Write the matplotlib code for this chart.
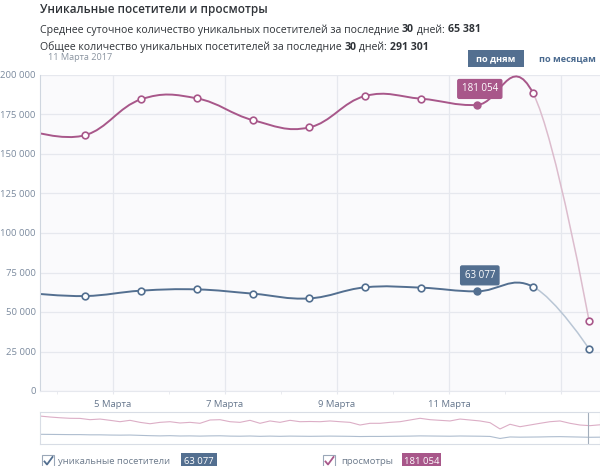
import matplotlib
matplotlib.use('Agg')
import matplotlib.pyplot as plt
from matplotlib.path import Path
from matplotlib.patches import PathPatch, Rectangle
from matplotlib.ticker import FixedLocator, FuncFormatter
from matplotlib.lines import Line2D

plt.rcParams['font.family'] = ['Open Sans', 'DejaVu Sans']

# data points are at midday, first one is just outside the left edge
days = [3.5, 4.5, 5.5, 6.5, 7.5, 8.5, 9.5, 10.5, 11.5, 12.5, 13.5]
views = [165000, 161900, 184600, 185200, 171400, 166800, 186700, 185000, 181054, 188500, 44400]
visitors = [62000, 60100, 63500, 64300, 61600, 58600, 65600, 65400, 63077, 66000, 26700]
hover = 8
tick_days = [5, 7, 9, 11, 13]
tick_labels = ['5 Марта', '7 Марта', '9 Марта', '11 Марта', '']

# navigator (whole period, rough)
nav_views = [262000, 253000, 246000, 241000, 240000, 228000, 234000, 222000, 209000, 222000,
             203000, 190000, 203000, 209000, 197000, 203000, 194000, 225000, 228000, 209000,
             203000, 222000, 194000, 216000, 203000, 222000, 209000, 211000, 209000, 216000,
             209000, 203000, 178000, 194000, 194000, 203000, 209000, 225000, 241000, 228000,
             222000, 216000, 234000, 225000, 216000, 200000, 141000, 185000, 162000, 178000,
             194000, 209000, 216000, 194000, 178000, 172000, 180000]
nav_visitors = [91000, 90000, 89000, 88000, 88000, 86000, 86000, 84000, 83000, 84000,
                81000, 78000, 76000, 78000, 75000, 76000, 74000, 76000, 77000, 74000,
                73000, 75000, 72000, 74000, 72000, 74000, 73000, 72000, 73000, 74000,
                73000, 72000, 70000, 71000, 71000, 72000, 73000, 74000, 76000, 75000,
                74000, 73000, 75000, 74000, 73000, 71000, 52000, 66000, 64000, 65000,
                66000, 68000, 69000, 67000, 65000, 63000, 64000]
nav_sel = 54.8

C_VIEWS = '#a8578a'
C_VIS = '#536f90'
C_VIEWS_PALE = '#dcbccd'
C_VIS_PALE = '#b9c6d5'
GRID = '#e6e8ee'
TXT = '#7b8a9e'

W, H = 600, 466


def fx(x):
    return x / W


def fy(y):
    return 1 - y / H


def spline_ctrl(xs, ys, smoothing=1.5):
    n = len(xs)
    left = [(xs[i], ys[i]) for i in range(n)]
    right = [(xs[i], ys[i]) for i in range(n)]
    d = smoothing + 1
    for i in range(1, n - 1):
        lx = (smoothing * xs[i] + xs[i - 1]) / d
        ly = (smoothing * ys[i] + ys[i - 1]) / d
        rx = (smoothing * xs[i] + xs[i + 1]) / d
        ry = (smoothing * ys[i] + ys[i + 1]) / d
        corr = (ry - ly) * (rx - xs[i]) / (rx - lx) + ys[i] - ry
        left[i] = (lx, ly + corr)
        right[i] = (rx, ry + corr)
    return left, right


def spline_path(xs, ys, i0, i1):
    left, right = spline_ctrl(xs, ys)
    verts = [(xs[i0], ys[i0])]
    codes = [Path.MOVETO]
    for i in range(i0 + 1, i1 + 1):
        verts += [right[i - 1], left[i], (xs[i], ys[i])]
        codes += [Path.CURVE4] * 3
    return Path(verts, codes)


fig = plt.figure(figsize=(6, 4.66), dpi=100)

ax = fig.add_axes([fx(40), 1 - 391 / H, 560 / W, 316 / H])
ax.set_facecolor('#fafafc')
ax.set_xlim(3.696, 13.696)
ax.set_ylim(0, 200000)
for s in ['top', 'right']:
    ax.spines[s].set_visible(False)
ax.spines['left'].set_color('#cfd6df')
ax.spines['bottom'].set_color(GRID)
ax.yaxis.set_major_locator(FixedLocator(range(0, 200001, 25000)))
ax.yaxis.set_major_formatter(FuncFormatter(lambda v, p: f'{int(v):,}'.replace(',', ' ')))
ax.xaxis.set_major_locator(FixedLocator(tick_days))
ax.xaxis.set_minor_locator(FixedLocator([d for d in range(4, 14)]))
ax.set_xticklabels(tick_labels)
ax.tick_params(axis='y', length=0, pad=3, labelsize=6.8, labelcolor=TXT)
ax.tick_params(axis='x', which='both', length=2.5, color=GRID, pad=4, labelsize=6.8,
               labelcolor='#66778d')
ax.grid(True, color=GRID, lw=0.9)
ax.set_axisbelow(True)

last = len(days) - 1
for ys, c, cp in [(views, C_VIEWS, C_VIEWS_PALE), (visitors, C_VIS, C_VIS_PALE)]:
    ax.add_patch(PathPatch(spline_path(days, ys, 0, last - 1), fc='none', ec=c, lw=1.4))
    ax.add_patch(PathPatch(spline_path(days, ys, last - 1, last), fc='none', ec=cp, lw=1.1))
    pts = [i for i in range(1, len(days)) if i != hover]
    ax.plot([days[i] for i in pts], [ys[i] for i in pts], 'o', ms=4.8, mfc='white',
            mec=c, mew=1.2, clip_on=False, zorder=5)
    ax.plot(days[hover], ys[hover], 'o', ms=4.8, mfc=c, mec=c, mew=1.2, zorder=5)
    ax.annotate(f'{ys[hover]:,}'.replace(',', ' '), (days[hover], ys[hover]),
                xytext=(2, 11.5), textcoords='offset points', ha='center', va='center',
                color='white', fontsize=7,
                bbox=dict(boxstyle='round,pad=0.4,rounding_size=0.15', fc=c, ec=c), zorder=6)

# navigator
nav = fig.add_axes([fx(40), 1 - 444 / H, 560 / W, 32 / H])
nav.set_xlim(0, len(nav_views) - 1)
nav.set_ylim(0, 300000)
nav.set_xticks([])
nav.set_yticks([])
for s in nav.spines.values():
    s.set_color('#d8dde5')
nav.plot(range(len(nav_views)), nav_views, color='#dcaec6', lw=0.8)
nav.plot(range(len(nav_visitors)), nav_visitors, color='#aebdcf', lw=0.8)
nav.axvline(nav_sel, color='#a3aebb', lw=0.8)

# header
fig.text(fx(40), fy(10), 'Уникальные посетители и просмотры', fontsize=8.4,
         fontweight='semibold', color='#2f3338', va='center')

renderer = fig.canvas.get_renderer()


def rich_line(x, y, parts, size=7.6, color='#2f3338'):
    for txt, bold in parts:
        t = fig.text(fx(x), fy(y), txt, fontsize=size, color=color, va='center',
                     fontweight='bold' if bold else 'normal')
        x += t.get_window_extent(renderer).width


rich_line(40, 30, [('Среднее суточное количество уникальных посетителей за последние ', False),
                   ('30', True), (' дней: ', False), ('65 381', True)])
rich_line(40, 47, [('Общее количество уникальных посетителей за последние ', False),
                   ('30', True), (' дней: ', False), ('291 301', True)])
fig.text(fx(48), fy(57), '11 Марта 2017', fontsize=6.6, color='#8a94a0', va='center')

fig.patches.append(Rectangle((fx(468), fy(67)), 56 / W, 17 / H, transform=fig.transFigure,
                             fc=C_VIS, ec='none'))
fig.text(fx(496), fy(58.5), 'по дням', fontsize=6.6, color='white', fontweight='bold',
         ha='center', va='center')
fig.text(fx(567), fy(58.5), 'по месяцам', fontsize=6.6, color='#4a6a8f', fontweight='bold',
         ha='center', va='center')

# legend


def checkbox(x, y, c):
    fig.patches.append(Rectangle((fx(x), fy(y + 6)), 12 / W, 12 / H, transform=fig.transFigure,
                                 fc='white', ec='#9aa7b8', lw=0.8))
    fig.lines.append(Line2D([fx(x + 2.5), fx(x + 5), fx(x + 10.5)],
                            [fy(y + 0.5), fy(y + 3.5), fy(y - 4)],
                            transform=fig.transFigure, color=c, lw=1.3))


def badge(x, y, w, txt, c):
    fig.patches.append(Rectangle((fx(x), fy(y + 8)), w / W, 16 / H, transform=fig.transFigure,
                                 fc=c, ec='none'))
    fig.text(fx(x + w / 2), fy(y), txt, fontsize=6.8, color='white', ha='center', va='center')


checkbox(42, 461, C_VIS)
fig.text(fx(58), fy(461), 'уникальные посетители', fontsize=6.8, color='#6d7b8c', va='center')
badge(181, 461, 36, f'{visitors[hover]:,}'.replace(',', ' '), C_VIS)
checkbox(323, 461, C_VIEWS)
fig.text(fx(341), fy(461), 'просмотры', fontsize=6.8, color='#6d7b8c', va='center')
badge(402, 461, 39, f'{views[hover]:,}'.replace(',', ' '), C_VIEWS)

fig.savefig('out.png', dpi=100)
